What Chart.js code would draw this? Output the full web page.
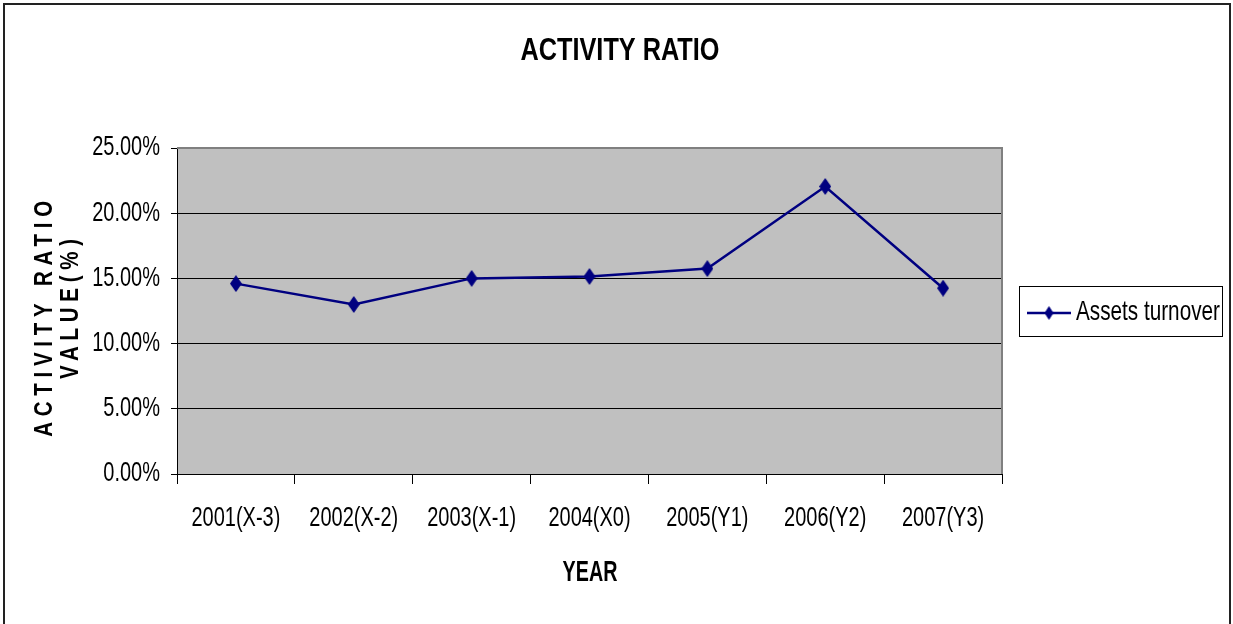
<!DOCTYPE html>
<html>
<head>
<meta charset="utf-8">
<title>Activity Ratio</title>
<script src="https://cdn.jsdelivr.net/npm/chart.js@4.4.0/dist/chart.umd.min.js"></script>
<style>
  body { margin: 0; background: #fff; }
  canvas { display: block; }
</style>
</head>
<body>
<canvas id="myChart" width="1233" height="624"></canvas>
<script>
// data
const years = ['2001(X-3)', '2002(X-2)', '2003(X-1)', '2004(X0)', '2005(Y1)', '2006(Y2)', '2007(Y3)'];
const assetsTurnover = [14.6, 13.0, 15.0, 15.15, 15.75, 22.05, 14.25];
const yTicks = [0, 5, 10, 15, 20, 25];

const chartTitle = 'ACTIVITY RATIO';
const yTitle = ['ACTIVITY RATIO', 'VALUE(%)'];
const xTitle = 'YEAR';
const seriesName = 'Assets turnover';

const FONT = '"Liberation Sans", Arial, sans-serif';
const NAVY = '#000080';

const fmtPct = v => v.toFixed(2) + '%';

// tall diamond marker
function diamond(w, h) {
    const c = document.createElement('canvas');
    c.width = w;
    c.height = h;
    const g = c.getContext('2d');
    g.fillStyle = NAVY;
    g.beginPath();
    g.moveTo(w / 2, 0);
    g.lineTo(w, h / 2);
    g.lineTo(w / 2, h);
    g.lineTo(0, h / 2);
    g.closePath();
    g.fill();
    return c;
}
const marker = diamond(12, 17);
const legendMarker = diamond(9, 14);

// text squeezed horizontally around (x, y), optionally rotated
function condensedText(ctx, text, x, y, font, align, squeeze, angle) {
    ctx.save();
    ctx.translate(x, y);
    if (angle) ctx.rotate(angle);
    ctx.scale(squeeze, 1);
    ctx.font = font;
    ctx.textAlign = align;
    ctx.textBaseline = 'middle';
    ctx.fillStyle = '#000';
    ctx.fillText(text, 0, 0);
    ctx.restore();
}

// grey plot background with grey top/right frame
const plotFrame = {
    id: 'plotFrame',
    beforeDraw(chart) {
        const { ctx, chartArea: a } = chart;
        ctx.save();
        ctx.fillStyle = '#fff';
        ctx.fillRect(0, 0, chart.width, chart.height);
        ctx.fillStyle = '#c0c0c0';
        ctx.fillRect(a.left, a.top, a.right - a.left, a.bottom - a.top);
        // outer border
        ctx.strokeStyle = '#222';
        ctx.lineWidth = 2;
        ctx.strokeRect(4, 4, chart.width - 7, chart.height + 20);
        ctx.restore();
    },
    beforeDatasetsDraw(chart) {
        const { ctx, chartArea: a } = chart;
        ctx.save();
        ctx.strokeStyle = '#808080';
        ctx.lineWidth = 2;
        ctx.beginPath();
        ctx.moveTo(a.left, a.top);
        ctx.lineTo(a.right, a.top);
        ctx.lineTo(a.right, a.bottom);
        ctx.stroke();
        ctx.restore();
    }
};

// tick labels, titles and legend box in a narrow face
const labels = {
    id: 'labels',
    afterDraw(chart) {
        const { ctx, scales } = chart;
        ctx.save();

        const xs = scales.x, ys = scales.y;
        ys.ticks.forEach(t => {
            condensedText(ctx, fmtPct(t.value), 160, ys.getPixelForValue(t.value), '27px ' + FONT, 'right', 0.74);
        });
        years.forEach((lab, i) => {
            condensedText(ctx, lab, xs.getPixelForTick(i), 519, '27px ' + FONT, 'center', 0.74);
        });

        condensedText(ctx, chartTitle, 620, 51, 'bold 32px ' + FONT, 'center', 0.79);
        condensedText(ctx, xTitle, 590, 573, 'bold 29px ' + FONT, 'center', 0.68);

        // rotated, letter-spaced y title
        ctx.letterSpacing = '7px';
        condensedText(ctx, yTitle[0], 45, 316, 'bold 25px ' + FONT, 'center', 0.82, -Math.PI / 2);
        condensedText(ctx, yTitle[1], 71, 306, 'bold 25px ' + FONT, 'center', 0.82, -Math.PI / 2);
        ctx.letterSpacing = '0px';

        // legend
        const lx = 1019, ly = 286, lw = 203, lh = 50;
        ctx.strokeStyle = '#000';
        ctx.lineWidth = 1;
        ctx.strokeRect(lx + 0.5, ly + 0.5, lw, lh);
        const my = ly + lh / 2 + 2;
        ctx.strokeStyle = NAVY;
        ctx.lineWidth = 2.5;
        ctx.beginPath();
        ctx.moveTo(lx + 8, my);
        ctx.lineTo(lx + 52, my);
        ctx.stroke();
        ctx.drawImage(legendMarker, lx + 30 - legendMarker.width / 2, my - legendMarker.height / 2);
        condensedText(ctx, seriesName, lx + 57, my - 1, '28px ' + FONT, 'left', 0.74);
        ctx.restore();
    }
};

const ctx = document.getElementById('myChart');
new Chart(ctx, {
    type: 'line',
    data: {
        labels: years,
        datasets: [{
            label: seriesName,
            data: assetsTurnover,
            borderColor: NAVY,
            backgroundColor: NAVY,
            borderWidth: 2.5,
            tension: 0,
            pointStyle: marker,
            pointRadius: 8,
            pointHoverRadius: 8
        }]
    },
    options: {
        responsive: false,
        animation: false,
        events: [],
        layout: {
            padding: { left: 77, top: 148, right: 231, bottom: 90 }
        },
        plugins: {
            legend: { display: false },
            title: { display: false },
            tooltip: { enabled: false }
        },
        scales: {
            x: {
                offset: true,
                grid: {
                    offset: true,
                    drawOnChartArea: false,
                    tickLength: 10,
                    color: '#000'
                },
                border: { color: '#000', width: 1 },
                ticks: { display: false, autoSkip: false },
                afterFit(scale) { scale.height = 60; }
            },
            y: {
                min: 0,
                max: 25,
                afterBuildTicks(scale) {
                    scale.ticks = yTicks.map(v => ({ value: v }));
                },
                grid: {
                    color: '#000',
                    tickLength: 6
                },
                border: { color: '#000', width: 1 },
                ticks: { display: false },
                afterFit(scale) { scale.width = 100; }
            }
        }
    },
    plugins: [plotFrame, labels]
});
</script>
</body>
</html>
